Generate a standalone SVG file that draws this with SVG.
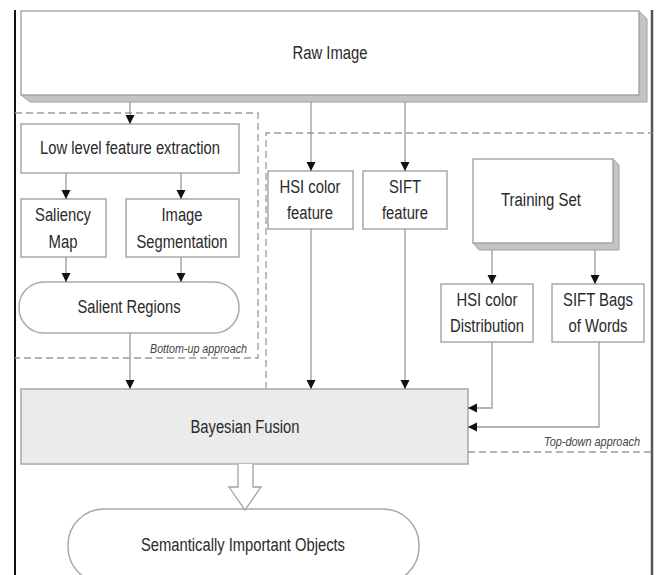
<svg xmlns="http://www.w3.org/2000/svg" width="657" height="575" viewBox="0 0 657 575">
<style>
.box{fill:#fff;stroke:#a8a8a8;stroke-width:1.5}
.shadow{fill:#c4c4c4;stroke:#a0a0a0;stroke-width:1}
.t{font-family:"Liberation Sans",Arial,sans-serif;font-size:18px;fill:#2a2a2a;text-anchor:middle}
.lbl{font-family:"Liberation Sans",Arial,sans-serif;font-size:13px;font-style:italic;fill:#444;text-anchor:end}
.ln{fill:none;stroke:#9a9a9a;stroke-width:1.3}
.dash{fill:none;stroke:#9a9a9a;stroke-width:1.3;stroke-dasharray:7,4}
</style>
<defs>
<marker id="ah" viewBox="0 0 10 10" refX="10" refY="5" markerWidth="9" markerHeight="11" markerUnits="userSpaceOnUse" orient="auto">
<path d="M0,0 L10,5 L0,10 Z" fill="#111"/>
</marker>
</defs>
<rect width="657" height="575" fill="#fff"/>
<g id="frame">
<line x1="15" y1="10" x2="15" y2="575" stroke="#111" stroke-width="2"/>
<line x1="652" y1="10" x2="652" y2="575" stroke="#555" stroke-width="2.5"/>
</g>
<g id="groups">
<path class="dash" d="M15,113 H258 V358 H15"/>
<path class="dash" d="M266,389 V133 H652 M468,452 H652"/>
<text class="lbl" x="247" y="353" textLength="97" lengthAdjust="spacingAndGlyphs">Bottom-up approach</text>
<text class="lbl" x="640" y="446" textLength="96" lengthAdjust="spacingAndGlyphs">Top-down approach</text>
</g>
<g id="raw-image">
<path class="shadow" d="M21,95 L30,102 H647 V19 L639,11 V95 Z"/>
<rect class="box" x="21" y="11" width="618" height="84"/>
<text class="t" x="330" y="59" textLength="75" lengthAdjust="spacingAndGlyphs">Raw Image</text>
</g>
<g id="low-level">
<rect class="box" x="21" y="124" width="218" height="49"/>
<text class="t" x="130" y="154" textLength="180" lengthAdjust="spacingAndGlyphs">Low level feature extraction</text>
</g>
<g id="saliency-map">
<rect class="box" x="21" y="199" width="85" height="58"/>
<text class="t" x="63" y="221" textLength="56" lengthAdjust="spacingAndGlyphs">Saliency</text>
<text class="t" x="63" y="248" textLength="29" lengthAdjust="spacingAndGlyphs">Map</text>
</g>
<g id="image-segmentation">
<rect class="box" x="126" y="199" width="113" height="58"/>
<text class="t" x="182" y="221" textLength="41" lengthAdjust="spacingAndGlyphs">Image</text>
<text class="t" x="182" y="248" textLength="91" lengthAdjust="spacingAndGlyphs">Segmentation</text>
</g>
<g id="salient-regions">
<rect class="box" x="19" y="282" width="220" height="51" rx="25"/>
<text class="t" x="129" y="313" textLength="103" lengthAdjust="spacingAndGlyphs">Salient Regions</text>
</g>
<g id="hsi-feature">
<rect class="box" x="268" y="171" width="85" height="58"/>
<text class="t" x="310" y="193" textLength="61" lengthAdjust="spacingAndGlyphs">HSI color</text>
<text class="t" x="310" y="219" textLength="46" lengthAdjust="spacingAndGlyphs">feature</text>
</g>
<g id="sift-feature">
<rect class="box" x="363" y="171" width="84" height="58"/>
<text class="t" x="405" y="193" textLength="32" lengthAdjust="spacingAndGlyphs">SIFT</text>
<text class="t" x="405" y="219" textLength="46" lengthAdjust="spacingAndGlyphs">feature</text>
</g>
<g id="training-set">
<path class="shadow" d="M473,243 L479,250 H619 V165 L613,159 V243 Z"/>
<rect class="box" x="473" y="159" width="140" height="84"/>
<text class="t" x="541" y="206" textLength="80" lengthAdjust="spacingAndGlyphs">Training Set</text>
</g>
<g id="hsi-distribution">
<rect class="box" x="441" y="284" width="92" height="58"/>
<text class="t" x="487" y="306" textLength="61" lengthAdjust="spacingAndGlyphs">HSI color</text>
<text class="t" x="487" y="332" textLength="74" lengthAdjust="spacingAndGlyphs">Distribution</text>
</g>
<g id="sift-bags">
<rect class="box" x="552" y="284" width="92" height="58"/>
<text class="t" x="598" y="306" textLength="70" lengthAdjust="spacingAndGlyphs">SIFT Bags</text>
<text class="t" x="598" y="332" textLength="59" lengthAdjust="spacingAndGlyphs">of Words</text>
</g>
<g id="bayesian-fusion">
<rect x="21" y="389" width="447" height="75" fill="#ebebeb" stroke="#a8a8a8" stroke-width="1.5"/>
<text class="t" x="245" y="433" textLength="109" lengthAdjust="spacingAndGlyphs">Bayesian Fusion</text>
</g>
<g id="semantic-objects">
<rect class="box" x="68" y="509" width="351" height="74" rx="36"/>
<text class="t" x="243" y="551" textLength="204" lengthAdjust="spacingAndGlyphs">Semantically Important Objects</text>
</g>
<g id="connectors">
<line class="ln" x1="130" y1="102" x2="130" y2="124" marker-end="url(#ah)"/>
<line class="ln" x1="66" y1="173" x2="66" y2="199" marker-end="url(#ah)"/>
<line class="ln" x1="181" y1="173" x2="181" y2="199" marker-end="url(#ah)"/>
<line class="ln" x1="66" y1="257" x2="66" y2="282" marker-end="url(#ah)"/>
<line class="ln" x1="181" y1="257" x2="181" y2="282" marker-end="url(#ah)"/>
<line class="ln" x1="130" y1="333" x2="130" y2="389" marker-end="url(#ah)"/>
<line class="ln" x1="311" y1="102" x2="311" y2="171" marker-end="url(#ah)"/>
<line class="ln" x1="405" y1="102" x2="405" y2="171" marker-end="url(#ah)"/>
<line class="ln" x1="311" y1="229" x2="311" y2="389" marker-end="url(#ah)"/>
<line class="ln" x1="405" y1="229" x2="405" y2="389" marker-end="url(#ah)"/>
<line class="ln" x1="492" y1="250" x2="492" y2="284" marker-end="url(#ah)"/>
<line class="ln" x1="595" y1="250" x2="595" y2="284" marker-end="url(#ah)"/>
<path class="ln" d="M492,342 V408 H468" marker-end="url(#ah)"/>
<path class="ln" d="M599,342 V427 H468" marker-end="url(#ah)"/>
<path d="M238,464 V487 H229 L245,510 L261,487 H253 V464" fill="#fff" stroke="#a0a0a0" stroke-width="1.3"/>
</g>
</svg>
